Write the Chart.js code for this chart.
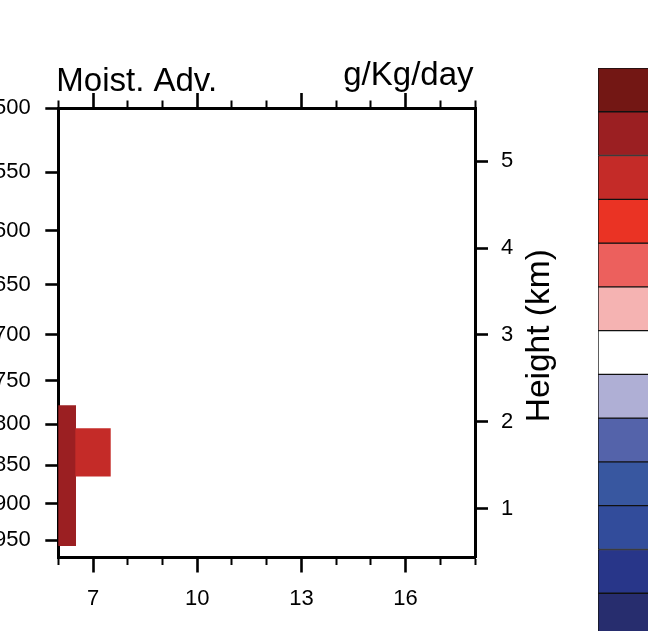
<!DOCTYPE html>
<html><head><meta charset="utf-8">
<script src="https://cdn.jsdelivr.net/npm/chart.js@4.4.1/dist/chart.umd.min.js"></script>
<style>
html,body{margin:0;padding:0;background:#fff;overflow:hidden;width:648px;height:631px;}
#main{position:absolute;left:0;top:0;}
#cbar{position:absolute;left:597.5px;top:67.5px;}
</style></head><body>
<canvas id="main" width="648" height="631"></canvas>
<canvas id="cbar" width="80" height="569"></canvas>
<script>
// ---- data ----
const xRange = [6, 18];
const xMajorTicks = [7, 10, 13, 16];
const xMinorTicks = [6, 7, 8, 9, 10, 11, 12, 13, 14, 15, 16, 17, 18];
const pressureRange = [500, 975];           // hPa, top / bottom
const pressureTicks = [500, 550, 600, 650, 700, 750, 800, 850, 900, 950];
const heightTicks = [1, 2, 3, 4, 5];        // km
const cellX = [6, 7];
const cellTopP = [778, 805];
const cellBottomP = [958, 864];
const cellLevel = [1, 2];                   // index into palette
const palette = ['#731714', '#9B1F22', '#C42B28', '#EA3324', '#EC605D', '#F5B3B2',
                 '#FFFFFF', '#AFAFD5', '#5463AA', '#3857A0', '#324C9B', '#283689', '#272D6E'];
const titleLeft = 'Moist. Adv.';
const titleRight = 'g/Kg/day';
const heightTitle = 'Height (km)';

// log-pressure height (km)
const SCALE_H = 7.753, P0 = 1031.3;
const hOf = p => SCALE_H * Math.log(P0 / p);

const FONT = "'Liberation Sans', Arial, Helvetica, sans-serif";
const TICK_FONT = {family: FONT, size: 22};
const isMajorX = c => c.tick && xMajorTicks.includes(c.tick.value);

const textPlugin = {
  id: 'texts',
  afterDraw(chart) {
    const ctx = chart.ctx, a = chart.chartArea;
    ctx.save();
    ctx.fillStyle = '#000';
    ctx.textBaseline = 'alphabetic';
    ctx.font = '33px ' + FONT;
    ctx.textAlign = 'left';
    ctx.fillText(titleLeft, a.left - 2, 90.5);
    ctx.font = '33px ' + FONT;
    ctx.textAlign = 'right';
    ctx.fillText(titleRight, a.right - 1.5, 85);
    ctx.font = '33.5px ' + FONT;
    ctx.translate(549, (a.top + a.bottom) / 2 + 3);
    ctx.rotate(-Math.PI / 2);
    ctx.textAlign = 'center';
    ctx.fillText(heightTitle, 0, 0);
    ctx.restore();
  }
};

const xCommon = (pos) => ({
  type: 'linear', position: pos, min: xRange[0], max: xRange[1], offset: false, z: 1,
  afterBuildTicks: s => { s.ticks = xMinorTicks.map(v => ({value: v})); },
  grid: {
    offset: false, drawOnChartArea: false, drawTicks: true, tickLength: 15, tickColor: '#000',
    tickWidth: c => isMajorX(c) ? 2.6 : 2,
    tickBorderDash: c => isMajorX(c) ? [] : (pos === 'bottom' ? [6, 100] : [0, 7.5, 100, 0])
  },
  border: {display: true, color: '#000', width: 3}
});

new Chart(document.getElementById('main'), {
  type: 'bar',
  data: {
    datasets: [{
      data: cellX.map((x, i) => ({x: x, y: [hOf(cellBottomP[i]), hOf(cellTopP[i])]})),
      backgroundColor: cellLevel.map(l => palette[l]),
      borderWidth: 0, barPercentage: 1, categoryPercentage: 1, clip: 0,
      xAxisID: 'x', yAxisID: 'y'
    }]
  },
  options: {
    responsive: false, animation: false, devicePixelRatio: 1,
    layout: {padding: 0},
    plugins: {legend: {display: false}, tooltip: {enabled: false}, title: {display: false}},
    scales: {
      x: Object.assign(xCommon('bottom'), {
        afterFit: s => { s.height = 631 - 557.5; },
        ticks: {
          autoSkip: false, maxRotation: 0, padding: 13, color: '#000', font: TICK_FONT,
          callback: v => xMajorTicks.includes(v) ? String(v) : ''
        }
      }),
      xTop: Object.assign(xCommon('top'), {
        afterFit: s => { s.height = 108; },
        ticks: {display: false, autoSkip: false}
      }),
      yP: {
        type: 'linear', position: 'left', min: hOf(pressureRange[1]), max: hOf(pressureRange[0]), z: 1,
        afterBuildTicks: s => { s.ticks = pressureTicks.map(p => ({value: hOf(p)})); },
        afterFit: s => { s.width = 58.3; },
        grid: {drawOnChartArea: false, drawTicks: true, tickLength: 13, tickColor: '#000', tickWidth: 2.6},
        border: {display: true, color: '#000', width: 3},
        ticks: {
          autoSkip: false, padding: 14.5, color: '#000', font: TICK_FONT,
          callback: (v, i) => String(pressureTicks[i])
        }
      },
      y: {
        type: 'linear', position: 'right', min: hOf(pressureRange[1]), max: hOf(pressureRange[0]), z: 1,
        afterBuildTicks: s => { s.ticks = heightTicks.map(v => ({value: v})); },
        afterFit: s => { s.width = 648 - 475; },
        grid: {drawOnChartArea: false, drawTicks: true, tickLength: 13, tickColor: '#000', tickWidth: 2.6},
        border: {display: true, color: '#000', width: 3},
        ticks: {
          autoSkip: false, padding: 13, color: '#000', font: TICK_FONT,
          callback: v => String(v)
        }
      }
    }
  },
  plugins: [textPlugin]
});

// ---- colour bar ----
new Chart(document.getElementById('cbar'), {
  type: 'bar',
  data: {
    labels: [''],
    datasets: palette.map(c => ({
      data: [1], backgroundColor: c, borderColor: '#111', borderWidth: 1,
      borderSkipped: false, barPercentage: 1, categoryPercentage: 1
    }))
  },
  options: {
    responsive: false, animation: false, devicePixelRatio: 1,
    layout: {padding: 0},
    plugins: {legend: {display: false}, tooltip: {enabled: false}},
    scales: {
      x: {display: false, stacked: true},
      y: {display: false, stacked: true, min: 0, max: palette.length, reverse: true}
    }
  }
});
</script>
</body></html>
